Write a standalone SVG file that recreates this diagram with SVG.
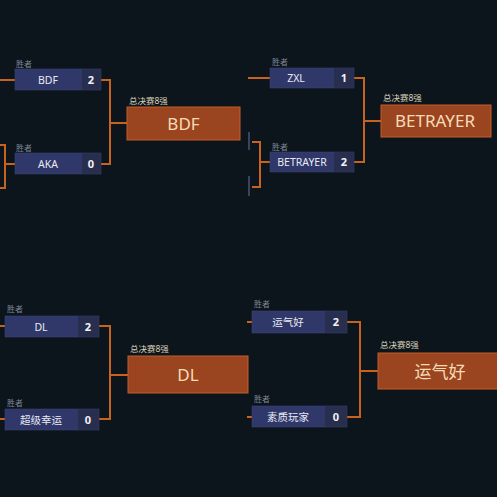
<svg xmlns="http://www.w3.org/2000/svg" width="497" height="497" viewBox="0 0 497 497">
<style>
.bg{fill:#0c141c}
.box{fill:#30386a;stroke:#3b4374;stroke-width:0.6}
.score{fill:#272e4e}
.name{font-family:"Noto Sans","Noto Sans CJK SC",sans-serif;font-size:10.5px;fill:#e9eaf2;text-anchor:middle}
.num{font-family:"Noto Sans","Noto Sans CJK SC",sans-serif;font-size:11px;font-weight:bold;fill:#f2f2f6;text-anchor:middle}
.win{font-family:"Noto Sans","Noto Sans CJK SC",sans-serif;font-size:8px;fill:#7f8596}
.top8{font-family:"Noto Sans","Noto Sans CJK SC",sans-serif;font-size:8.5px;fill:#d9d2b8}
.big{fill:#9b4520;stroke:#c25c2a;stroke-width:1}
.bigt{font-family:"Noto Sans","Noto Sans CJK SC",sans-serif;font-size:17px;fill:#f6dcb6;text-anchor:middle}
.c{fill:none;stroke:#c8621f;stroke-width:2}
.g{fill:none;stroke:#4a5372;stroke-width:1.5}
</style>
<rect class="bg" x="0" y="0" width="497" height="497"/>
<g id="connectors">
<path class="c" d="M0,80H15 M0,145H5V188H0 M5,164H15"/>
<path class="c" d="M101,80H110V164H101 M110,123H127"/>
<path class="c" d="M248,78H270 M252,142H260V187H252 M260,162H270"/>
<path class="g" d="M249,132V150 M249,176V196"/>
<path class="c" d="M354,78H364V162H354 M364,121H381"/>
<path class="c" d="M0,326H5 M0,419H5"/>
<path class="c" d="M99,326H110V419H99 M110,375H128"/>
<path class="c" d="M247,322H252 M247,417H252"/>
<path class="c" d="M347,322H360V417H347 M360,371H378"/>
</g>
<g id="n-bdf">
<text class="win" x="16" y="67">胜者</text>
<rect class="box" x="15" y="69" width="86" height="21"/>
<rect class="score" x="82" y="69.3" width="18.7" height="20.4"/>
<text class="name" x="48" y="83.5">BDF</text>
<text class="num" x="91" y="83.5">2</text>
</g>
<g id="n-aka">
<text class="win" x="16" y="151">胜者</text>
<rect class="box" x="15" y="153" width="86" height="21"/>
<rect class="score" x="82" y="153.3" width="18.7" height="20.4"/>
<text class="name" x="48" y="167.5">AKA</text>
<text class="num" x="91" y="167.5">0</text>
</g>
<g id="w-bdf">
<text class="top8" x="129" y="104">总决赛8强</text>
<rect class="big" x="127" y="107" width="113" height="33"/>
<text class="bigt" x="183.5" y="129.5">BDF</text>
</g>
<g id="n-zxl">
<text class="win" x="272" y="65">胜者</text>
<rect class="box" x="270" y="68" width="84" height="20"/>
<rect class="score" x="334" y="68.3" width="19.7" height="19.4"/>
<text class="name" x="296" y="82">ZXL</text>
<text class="num" x="344" y="82">1</text>
</g>
<g id="n-betrayer">
<text class="win" x="272" y="149.5">胜者</text>
<rect class="box" x="270" y="152" width="84" height="20"/>
<rect class="score" x="334" y="152.3" width="19.7" height="19.4"/>
<text class="name" x="302" y="166">BETRAYER</text>
<text class="num" x="344" y="166">2</text>
</g>
<g id="w-betrayer">
<text class="top8" x="383" y="101">总决赛8强</text>
<rect class="big" x="381" y="105" width="110" height="32"/>
<text class="bigt" x="435" y="127">BETRAYER</text>
</g>
<g id="n-dl">
<text class="win" x="7" y="312">胜者</text>
<rect class="box" x="5" y="316" width="94" height="21"/>
<rect class="score" x="78" y="316.3" width="20.7" height="20.4"/>
<text class="name" x="41" y="330.5">DL</text>
<text class="num" x="88" y="330.5">2</text>
</g>
<g id="n-cjxy">
<text class="win" x="7" y="405.5">胜者</text>
<rect class="box" x="5" y="409" width="94" height="21"/>
<rect class="score" x="78" y="409.3" width="20.7" height="20.4"/>
<text class="name" x="41" y="423.5">超级幸运</text>
<text class="num" x="88" y="423.5">0</text>
</g>
<g id="w-dl">
<text class="top8" x="130" y="352">总决赛8强</text>
<rect class="big" x="128" y="356" width="120" height="37"/>
<text class="bigt" x="188" y="381">DL</text>
</g>
<g id="n-yqh">
<text class="win" x="254" y="307">胜者</text>
<rect class="box" x="252" y="311" width="95" height="22"/>
<rect class="score" x="325" y="311.3" width="21.7" height="21.4"/>
<text class="name" x="288" y="326">运气好</text>
<text class="num" x="336" y="326">2</text>
</g>
<g id="n-szwj">
<text class="win" x="254" y="402">胜者</text>
<rect class="box" x="252" y="406" width="95" height="21"/>
<rect class="score" x="325" y="406.3" width="21.7" height="20.4"/>
<text class="name" x="288" y="420.5">素质玩家</text>
<text class="num" x="336" y="420.5">0</text>
</g>
<g id="w-yqh">
<text class="top8" x="380" y="348">总决赛8强</text>
<rect class="big" x="378" y="353" width="125" height="36"/>
<text class="bigt" x="440" y="377.5">运气好</text>
</g>
</svg>
